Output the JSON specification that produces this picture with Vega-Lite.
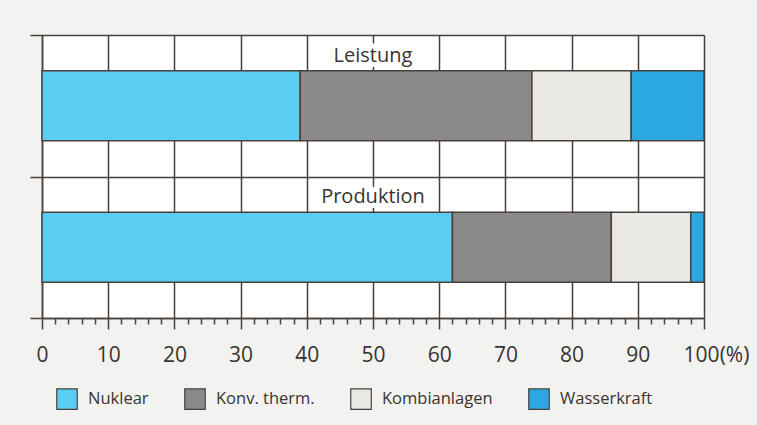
{
  "$schema": "https://vega.github.io/schema/vega-lite/v6.json",
  "width": 662,
  "height": 283,
  "autosize": "none",
  "padding": {"left": 42, "top": 35, "right": 53, "bottom": 107},
  "background": "#f2f2f0",
  "config": {
    "view": {"fill": "white", "stroke": null},
    "font": "Open Sans"
  },
  "layer": [
    {
      "data": {"values": [{"row": "Leistung"}, {"row": "Produktion"}]},
      "mark": {"type": "text", "fontSize": 20, "color": "white", "stroke": "white", "strokeWidth": 10, "baseline": "middle", "align": "center", "dy": 3},
      "encoding": {
        "y": {"field": "row", "type": "nominal", "bandPosition": 0.125},
        "x": {
          "datum": 50,
          "type": "quantitative",
          "axis": {
            "title": null,
            "values": [0, 2, 4, 6, 8, 10, 12, 14, 16, 18, 20, 22, 24, 26, 28, 30, 32, 34, 36, 38, 40, 42, 44, 46, 48, 50, 52, 54, 56, 58, 60, 62, 64, 66, 68, 70, 72, 74, 76, 78, 80, 82, 84, 86, 88, 90, 92, 94, 96, 98, 100],
            "labelExpr": "datum.value % 10 === 0 ? (datum.value === 100 ? '100(%)' : datum.label) : ''",
            "labelFontSize": 21,
            "labelColor": "#3a3330",
            "labelPadding": 15,
            "labelFlush": false,
            "labelOverlap": false,
            "labelOffset": {"condition": {"test": "datum.value === 100", "value": 12}, "value": 0},
            "tickSize": {"condition": {"test": "datum.value % 10 === 0", "value": 11}, "value": 6},
            "tickColor": "#4a403b",
            "tickWidth": 1.5,
            "domainColor": "#4a403b",
            "domainWidth": 1.5,
            "grid": true,
            "gridColor": "#4a403b",
            "gridWidth": 1.5,
            "gridOpacity": {"condition": {"test": "datum.value % 10 === 0", "value": 1}, "value": 0}
          }
        },
        "text": {"field": "row"}
      }
    },
    {
      "data": {
        "values": [
          {"row": "Leistung", "typ": "Nuklear", "start": 0, "end": 39},
          {"row": "Leistung", "typ": "Konv. therm.", "start": 39, "end": 74},
          {"row": "Leistung", "typ": "Kombianlagen", "start": 74, "end": 89},
          {"row": "Leistung", "typ": "Wasserkraft", "start": 89, "end": 100},
          {"row": "Produktion", "typ": "Nuklear", "start": 0, "end": 62},
          {"row": "Produktion", "typ": "Konv. therm.", "start": 62, "end": 86},
          {"row": "Produktion", "typ": "Kombianlagen", "start": 86, "end": 98},
          {"row": "Produktion", "typ": "Wasserkraft", "start": 98, "end": 100}
        ]
      },
      "mark": {"type": "bar", "size": 70, "stroke": "#4a403b", "strokeWidth": 1.5},
      "encoding": {
        "y": {
          "field": "row",
          "type": "nominal",
          "scale": {"domain": ["Leistung", "Produktion"], "paddingInner": 0, "paddingOuter": 0},
          "axis": {
            "title": null,
            "labels": false,
            "domain": true,
            "domainColor": "#4a403b",
            "domainWidth": 1.5,
            "ticks": true,
            "tickBand": "extent",
            "tickSize": 12,
            "tickColor": "#4a403b",
            "tickWidth": 1.5,
            "grid": true,
            "gridColor": "#4a403b",
            "gridWidth": 1.5
          }
        },
        "x": {
          "field": "start",
          "type": "quantitative",
          "scale": {"domain": [0, 100], "nice": false},
          "axis": {
            "title": null,
            "values": [0, 2, 4, 6, 8, 10, 12, 14, 16, 18, 20, 22, 24, 26, 28, 30, 32, 34, 36, 38, 40, 42, 44, 46, 48, 50, 52, 54, 56, 58, 60, 62, 64, 66, 68, 70, 72, 74, 76, 78, 80, 82, 84, 86, 88, 90, 92, 94, 96, 98, 100],
            "labelExpr": "datum.value % 10 === 0 ? (datum.value === 100 ? '100(%)' : datum.label) : ''",
            "labelFontSize": 21,
            "labelColor": "#3a3330",
            "labelPadding": 15,
            "labelFlush": false,
            "labelOverlap": false,
            "labelOffset": {"condition": {"test": "datum.value === 100", "value": 12}, "value": 0},
            "tickSize": {"condition": {"test": "datum.value % 10 === 0", "value": 11}, "value": 6},
            "tickColor": "#4a403b",
            "tickWidth": 1.5,
            "domainColor": "#4a403b",
            "domainWidth": 1.5,
            "grid": true,
            "gridColor": "#4a403b",
            "gridWidth": 1.5,
            "gridOpacity": {"condition": {"test": "datum.value % 10 === 0", "value": 1}, "value": 0}
          }
        },
        "x2": {"field": "end"},
        "color": {
          "field": "typ",
          "type": "nominal",
          "sort": null,
          "scale": {
            "domain": ["Nuklear", "Konv. therm.", "Kombianlagen", "Wasserkraft"],
            "range": ["#5ccdf2", "#8b8a89", "#e9e8e4", "#2ba8e0"]
          },
          "legend": {
            "orient": "none",
            "legendX": 14,
            "legendY": 353,
            "direction": "horizontal",
            "title": null,
            "symbolType": "square",
            "symbolSize": 420,
            "symbolStrokeColor": "#4a403b",
            "symbolStrokeWidth": 1.2,
            "symbolOpacity": 1,
            "labelFontSize": 16.5,
            "labelColor": "#3a3330",
            "labelOffset": 10,
            "columnPadding": 33
          }
        }
      }
    },
    {
      "data": {"values": [{"row": "Leistung"}, {"row": "Produktion"}]},
      "mark": {"type": "text", "fontSize": 20, "color": "#3a3330", "baseline": "middle", "align": "center", "dy": 3},
      "encoding": {
        "y": {"field": "row", "type": "nominal", "bandPosition": 0.125},
        "x": {
          "datum": 50,
          "type": "quantitative",
          "axis": {
            "title": null,
            "values": [0, 2, 4, 6, 8, 10, 12, 14, 16, 18, 20, 22, 24, 26, 28, 30, 32, 34, 36, 38, 40, 42, 44, 46, 48, 50, 52, 54, 56, 58, 60, 62, 64, 66, 68, 70, 72, 74, 76, 78, 80, 82, 84, 86, 88, 90, 92, 94, 96, 98, 100],
            "labelExpr": "datum.value % 10 === 0 ? (datum.value === 100 ? '100(%)' : datum.label) : ''",
            "labelFontSize": 21,
            "labelColor": "#3a3330",
            "labelPadding": 15,
            "labelFlush": false,
            "labelOverlap": false,
            "labelOffset": {"condition": {"test": "datum.value === 100", "value": 12}, "value": 0},
            "tickSize": {"condition": {"test": "datum.value % 10 === 0", "value": 11}, "value": 6},
            "tickColor": "#4a403b",
            "tickWidth": 1.5,
            "domainColor": "#4a403b",
            "domainWidth": 1.5,
            "grid": true,
            "gridColor": "#4a403b",
            "gridWidth": 1.5,
            "gridOpacity": {"condition": {"test": "datum.value % 10 === 0", "value": 1}, "value": 0}
          }
        },
        "text": {"field": "row"}
      }
    }
  ]
}
